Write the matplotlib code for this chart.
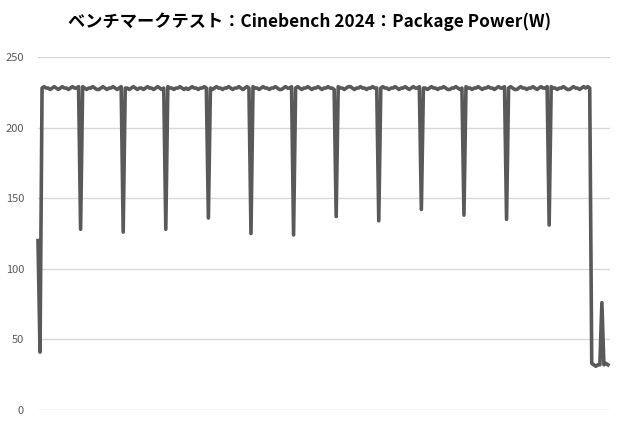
import matplotlib
matplotlib.use("Agg")
import matplotlib.pyplot as plt

plt.rcParams['font.family'] = ['Noto Sans CJK JP', 'DejaVu Sans']

title = "ベンチマークテスト：Cinebench 2024：Package Power(W)"
y_ticks = [0, 50, 100, 150, 200, 250]

start_vals = [120, 41]
dip_vals = [128, 126, 128, 136, 125, 124, 137, 134, 142, 138, 135, 131]
plateaus = [
    [228, 229, 228, 228, 227, 228, 229, 228, 227, 228, 229, 228, 228, 227, 228, 229, 228, 228, 229],
    [229, 228, 227, 228, 228, 229, 228, 227, 227, 228, 229, 228, 227, 228, 228, 229, 228, 227, 228, 229],
    [228, 228, 227, 228, 229, 228, 227, 228, 228, 227, 228, 229, 228, 228, 227, 228, 229, 228, 227, 228],
    [229, 228, 228, 227, 228, 228, 229, 228, 227, 228, 227, 228, 229, 228, 228, 227, 228, 228, 229, 228],
    [228, 227, 228, 229, 228, 228, 227, 228, 228, 229, 228, 227, 228, 228, 229, 228, 227, 228, 229, 228],
    [229, 228, 228, 227, 228, 229, 228, 228, 227, 228, 228, 229, 228, 227, 227, 228, 229, 228, 228, 229],
    [228, 229, 228, 227, 228, 228, 229, 228, 227, 228, 228, 229, 228, 227, 228, 228, 229, 228, 228, 227],
    [229, 228, 228, 227, 228, 229, 229, 228, 227, 228, 228, 229, 228, 228, 227, 228, 228, 229, 228, 228],
    [228, 229, 228, 228, 227, 228, 228, 229, 228, 227, 228, 228, 229, 228, 227, 228, 229, 228, 228, 229],
    [228, 228, 227, 228, 229, 228, 228, 227, 228, 228, 229, 228, 227, 227, 228, 228, 229, 228, 227, 228],
    [229, 228, 228, 227, 228, 228, 229, 228, 227, 228, 228, 229, 228, 228, 227, 228, 229, 228, 228, 229],
    [228, 229, 228, 227, 227, 228, 229, 228, 228, 227, 228, 228, 229, 228, 227, 228, 229, 228, 228, 229],
    [229, 228, 228, 227, 228, 228, 229, 228, 227, 227, 228, 229, 228, 228, 227, 228, 229, 228, 229, 228],
]
end_vals = [33, 32, 31, 32, 32, 76, 32, 33, 32]

power = list(start_vals)
for i, p in enumerate(plateaus):
    power.extend(p)
    if i < len(dip_vals):
        power.append(dip_vals[i])
power.extend(end_vals)
x = list(range(len(power)))

fig = plt.figure(figsize=(6.2, 4.3), dpi=100)
ax = fig.add_axes([38/620, 1 - 410/430, (610-38)/620, (410-57)/430])
ax.plot(x, power, color='#595959', lw=2.6, solid_joinstyle='round', clip_on=False)
ax.set_ylim(0, 250)
ax.set_xlim(0, len(power))
ax.set_yticks(y_ticks)
ax.set_yticklabels([str(v) for v in y_ticks])
ax.set_xticks([])
ax.grid(axis='y', color='#d9d9d9', lw=1)
ax.set_axisbelow(True)
for s in ax.spines.values():
    s.set_visible(False)
ax.tick_params(axis='y', length=0, pad=10, labelsize=8, labelcolor='#595959')
fig.text(0.5, 1 - 22/430, title, ha='center', va='center', fontsize=12.4,
         fontweight='bold', color='#000000')
fig.savefig('out.png', dpi=100, facecolor='white')
